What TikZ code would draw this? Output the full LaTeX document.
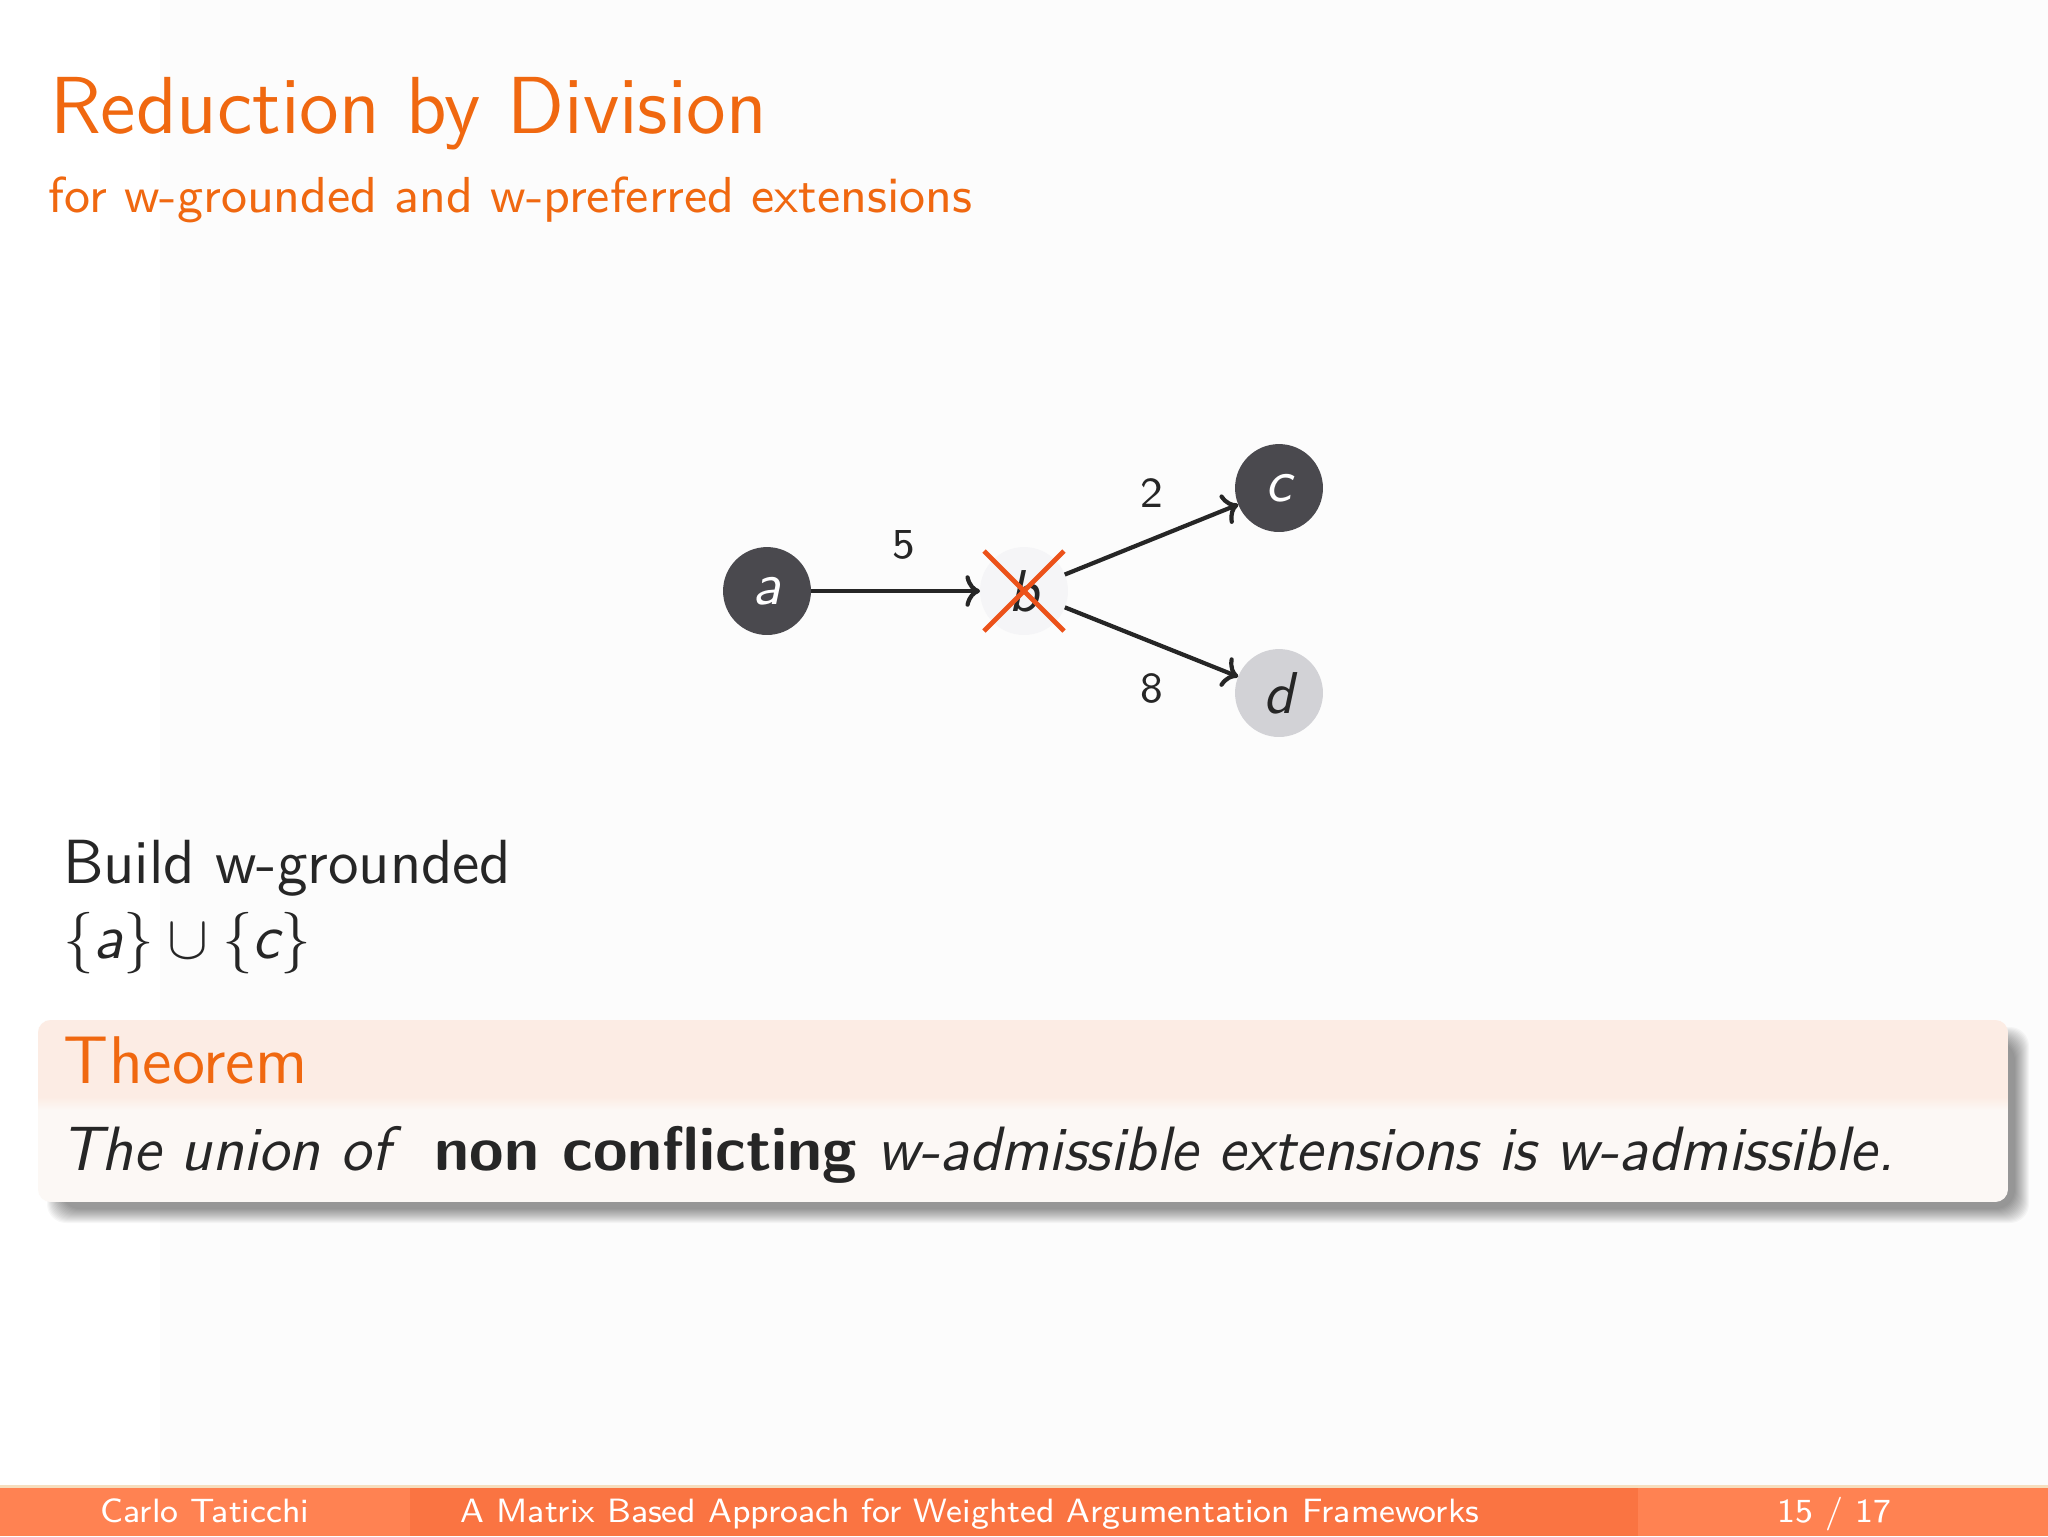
\documentclass[tikz,border=0pt]{standalone}
\usetikzlibrary{arrows.meta}
\definecolor{ttl}{RGB}{240,104,16}
\definecolor{txt}{RGB}{38,38,38}
\definecolor{nodedark}{RGB}{74,73,78}
\definecolor{nodelight}{RGB}{210,210,214}
\definecolor{nodefaint}{RGB}{245,245,247}
\definecolor{edgec}{RGB}{38,38,38}
\definecolor{crossc}{RGB}{236,82,26}
\definecolor{hdr}{RGB}{252,236,228}
\definecolor{bdy}{RGB}{252,248,245}
\definecolor{footA}{RGB}{255,130,82}
\definecolor{footB}{RGB}{250,116,66}
\definecolor{footline}{RGB}{246,222,190}
\definecolor{bgfaint}{RGB}{252,252,252}
\begin{document}
\begin{tikzpicture}[x=0.00625cm,y=-0.00625cm,
  every node/.style={inner sep=0pt, outer sep=0pt},
  arg/.style={circle, minimum size=5.5mm, inner sep=0pt, font=\sffamily\itshape\fontsize{10.5}{12}\selectfont},
  darkarg/.style={arg, fill=nodedark, text=white},
  lightarg/.style={arg, fill=nodelight, text=txt},
  faintarg/.style={arg, fill=nodefaint, text=txt},
  att/.style={draw=edgec, line width=0.75pt, -{To[length=2.6pt,width=5.6pt]}},
  wlabel/.style={font=\sffamily\fontsize{7.6}{9}\selectfont, text=txt},
  crossline/.style={draw=crossc, line width=0.85pt},
  foottext/.style={font=\sffamily\fontsize{6}{7}\selectfont, text=white, anchor=base}
]
\useasboundingbox (0,0) rectangle (2048,1536);
\fill[white] (0,0) rectangle (2048,1536);
\fill[bgfaint] (160,0) rectangle (2048,1486);

% title
\node[anchor=base west, text=ttl, font=\sffamily\fontsize{14.4}{17}\selectfont] (title) at (50,133) {Reduction by Division};
\node[anchor=base west, text=ttl, font=\sffamily\fontsize{9}{11}\selectfont] (subtitle) at (49,212) {for w-grounded and w-preferred extensions};

% graph
\node[darkarg] (a) at (767,591) {a};
\node[faintarg] (b) at (1024,591) {b};
\node[darkarg] (c) at (1279,488) {c};
\node[lightarg] (d) at (1279,693) {d};
\draw[att] (a) -- (b) node[wlabel, midway, yshift=0.29cm, xshift=0.5mm] (l5) {5};
\draw[att] (b) -- (c) node[wlabel, midway, yshift=0.29cm] (l2) {2};
\draw[att] (b) -- (d) node[wlabel, midway, yshift=-0.29cm] (l8) {8};
\draw[crossline] ([shift={(-40,-40)}]b.center) -- ([shift={(40,40)}]b.center);
\draw[crossline] ([shift={(40,-40)}]b.center) -- ([shift={(-40,40)}]b.center);

% text
\node[anchor=base west, text=txt, font=\sffamily\fontsize{11.1}{13.6}\selectfont] (build) at (63,883) {Build w-grounded};
\node[anchor=base west, text=txt, font=\sffamily\fontsize{11.1}{13.6}\selectfont] (union) at (63,958) {$\{\mbox{\sffamily\itshape a}\}\cup\{\mbox{\sffamily\itshape c}\}$};

% theorem block shadow
\foreach \i in {-7,...,7} {
  \fill[black, opacity=0.03, rounded corners=1.2mm] (54-\i,1034-\i) rectangle (2022+\i,1216+\i);
}
\begin{scope}
  \clip[rounded corners=0.8mm] (38,1020) rectangle (2008,1202);
  \fill[bdy] (38,1020) rectangle (2008,1202);
  \fill[hdr] (38,1020) rectangle (2008,1098);
  \shade[top color=hdr, bottom color=bdy] (38,1097) rectangle (2008,1110);
\end{scope}
\node[anchor=base west, text=ttl, font=\sffamily\fontsize{12}{14}\selectfont] (thm) at (64,1083) {Theorem};
\node[anchor=base west, text=txt, font=\sffamily\itshape\fontsize{11.15}{13.6}\selectfont] (thmbody) at (60,1170) {The union of\/\hspace{2.2pt} {\bfseries\upshape non conflicting} w-admissible extensions is w-admissible.};

% footer
\fill[footA] (0,1486) rectangle (410,1536);
\fill[footB] (410,1486) rectangle (1638,1536);
\fill[footA] (1638,1486) rectangle (2048,1536);
\fill[footline] (0,1485) rectangle (2048,1487.5);
\node[foottext] (author) at (205,1522) {Carlo Taticchi};
\node[foottext] (ftitle) at (970,1522) {A Matrix Based Approach for Weighted Argumentation Frameworks};
\node[foottext, anchor=base east] (page) at (1891,1522) {15 / 17};
\end{tikzpicture}
\end{document}
